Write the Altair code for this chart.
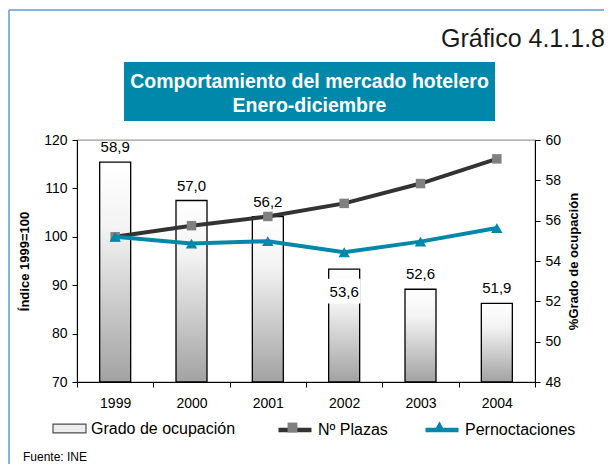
import altair as alt
import pandas as pd

# ---- data ----
anios = ["1999", "2000", "2001", "2002", "2003", "2004"]
grado_ocupacion = [58.9, 57.0, 56.2, 53.6, 52.6, 51.9]
plazas = [100.0, 102.3, 104.2, 106.9, 111.0, 116.1]
pernoctaciones = [100.0, 98.6, 99.1, 96.8, 99.0, 101.8]
etiquetas_dentro = ["2002"]

titulo = ["Comportamiento del mercado hotelero", "Enero-diciembre"]
grafico = "Gráfico 4.1.1.8"
fuente = "Fuente: INE"
eje_izq = "Índice 1999=100"
eje_der = "%Grado de ocupación"
serie_barras = "Grado de ocupación"
serie_plazas = "Nº Plazas"
serie_pern = "Pernoctaciones"
ticks_izq = [70, 80, 90, 100, 110, 120]
ticks_der = [48, 50, 52, 54, 56, 58, 60]

# ---- tables ----
df_bar = pd.DataFrame({"anio": anios, "ocupacion": grado_ocupacion})
df_bar["etiqueta"] = [f"{v:.1f}".replace(".", ",") for v in grado_ocupacion]
df_bar["serie"] = serie_barras
df_bar["dentro"] = df_bar["anio"].isin(etiquetas_dentro)
df_pl = pd.DataFrame({"anio": anios, "indice": plazas, "serie": serie_plazas})
df_pe = pd.DataFrame({"anio": anios, "indice": pernoctaciones, "serie": serie_pern})
uno = pd.DataFrame({"k": [0]})

FONT = "Liberation Sans"
TEAL = "#0088AA"
DARK = "#333333"
W, H = 458, 242
LY = 271

x_enc = alt.X(
    "anio:O",
    scale=alt.Scale(paddingInner=0, paddingOuter=0),
    axis=alt.Axis(title=None, labelAngle=0, tickBand="extent", labelFontSize=14,
                  labelPadding=9, tickSize=5, domainColor="black", tickColor="black",
                  labelColor="black"),
)
y_der = alt.Scale(domain=[48, 60], nice=False, zero=False)
y_izq = alt.Scale(domain=[70, 120], nice=False, zero=False)


def leyenda(x, path, **kw):
    return alt.Legend(title=None, orient="none", legendX=x, legendY=LY, symbolType=path,
                      symbolSize=1089, labelFontSize=16, labelColor="black", labelOffset=4,
                      padding=0, **kw)


gradiente = alt.Gradient(
    gradient="linear",
    stops=[alt.GradientStop(color="#ffffff", offset=0),
           alt.GradientStop(color="#f3f3f3", offset=0.3),
           alt.GradientStop(color="#a2a2a2", offset=1)],
    x1=0, x2=0, y1=0, y2=1,
)

barras = alt.Chart(df_bar).mark_bar(fill=gradiente, stroke="black", strokeWidth=1.3, size=31).encode(
    x=x_enc,
    y=alt.Y("ocupacion:Q", scale=y_der,
            axis=alt.Axis(orient="right", values=ticks_der, title=eje_der, titleAngle=270,
                          titleBaseline="top", titleFontSize=13, titleFontWeight="bold",
                          titleColor="black", titlePadding=7, labelFontSize=14, labelPadding=5,
                          tickSize=5, domainColor="black", tickColor="black", labelColor="black")),
    y2=alt.datum(48),
)

ley_barras = alt.Chart(df_bar).transform_filter("false").mark_point(filled=True).encode(
    fill=alt.Fill("serie:N", scale=alt.Scale(domain=[serie_barras], range=["#e6e6e6"]),
                  legend=leyenda(-25, "M-1,-0.27H1V0.27H-1Z", symbolStrokeColor="black",
                                 symbolStrokeWidth=1.2)),
)

etiq_fuera = alt.Chart(df_bar).transform_filter("!datum.dentro").mark_text(
    fontSize=15, baseline="alphabetic", dy=-10, color="black").encode(
    x=x_enc, y=alt.Y("ocupacion:Q", scale=y_der, axis=None), text="etiqueta:N")

caja_dentro = alt.Chart(df_bar).transform_filter("datum.dentro").mark_point(
    shape="M-1,-0.75H1V0.75H-1Z", size=1089, filled=True, color="white", opacity=1,
    yOffset=22).encode(x=x_enc, y=alt.Y("ocupacion:Q", scale=y_der, axis=None))

etiq_dentro = alt.Chart(df_bar).transform_filter("datum.dentro").mark_text(
    fontSize=15, baseline="middle", dy=23, color="black").encode(
    x=x_enc, y=alt.Y("ocupacion:Q", scale=y_der, axis=None), text="etiqueta:N")

linea_pl = alt.Chart(df_pl).mark_line(strokeWidth=4).encode(
    x=x_enc,
    y=alt.Y("indice:Q", scale=y_izq,
            axis=alt.Axis(orient="left", values=ticks_izq, title=eje_izq, titleFontSize=13,
                          titleFontWeight="bold", titleColor="black", titlePadding=12,
                          labelFontSize=14, labelPadding=5, tickSize=5, domainColor="black",
                          tickColor="black", labelColor="black")),
    stroke=alt.Stroke("serie:N", scale=alt.Scale(domain=[serie_plazas], range=[DARK]),
                      legend=leyenda(199, "M-1,0H1", symbolStrokeWidth=4.5)),
)
puntos_pl = alt.Chart(df_pl).mark_point(shape="square", filled=True, size=90, opacity=1).encode(
    x=x_enc, y=alt.Y("indice:Q", scale=y_izq, axis=None),
    fill=alt.Fill("serie:N", scale=alt.Scale(domain=[serie_plazas], range=["#808080"]),
                  legend=leyenda(199, "M-0.3,-0.3H0.3V0.3H-0.3Z", labelExpr="''",
                                 symbolStrokeWidth=0)),
)
linea_pe = alt.Chart(df_pe).mark_line(strokeWidth=4).encode(
    x=x_enc, y=alt.Y("indice:Q", scale=y_izq, axis=None),
    stroke=alt.Stroke("serie:N", scale=alt.Scale(domain=[serie_pern], range=[TEAL]),
                      legend=leyenda(346, "M-1,0H1", symbolStrokeWidth=4.5)),
)
puntos_pe = alt.Chart(df_pe).mark_point(shape="triangle-up", filled=True, size=130, opacity=1).encode(
    x=x_enc, y=alt.Y("indice:Q", scale=y_izq, axis=None),
    fill=alt.Fill("serie:N", scale=alt.Scale(domain=[serie_pern], range=[TEAL]),
                  legend=leyenda(346, "M0,-0.38L0.3,0.18H-0.3Z", labelExpr="''",
                                 symbolStrokeWidth=0)),
)

# ---- decoration ----
marco_izq = alt.Chart(uno).mark_rule(color="#5b9bd5", strokeWidth=1.5).encode(
    x=alt.value(-68), y=alt.value(-130), y2=alt.value(340))
marco_sup = alt.Chart(uno).mark_rule(color="#5b9bd5", strokeWidth=1.5).encode(
    x=alt.value(-68), x2=alt.value(600), y=alt.value(-130))
caja = alt.Chart(uno).mark_rect(color=TEAL).encode(
    x=alt.value(47), x2=alt.value(418), y=alt.value(-78), y2=alt.value(-19))
texto_titulo = alt.Chart(uno).mark_text(
    text=titulo, fontSize=19.5, fontWeight="bold", color="white", align="center",
    baseline="middle", lineHeight=24).encode(x=alt.value(232.5), y=alt.value(-58))
texto_grafico = alt.Chart(uno).mark_text(
    text=grafico, fontSize=25, align="left", baseline="alphabetic", color="#1a1a1a").encode(
    x=alt.value(364), y=alt.value(-93))
texto_fuente = alt.Chart(uno).mark_text(
    text=fuente, fontSize=12, align="left", baseline="middle", color="black").encode(
    x=alt.value(-54), y=alt.value(317))

chart = alt.layer(
    marco_izq, marco_sup, caja, texto_titulo, texto_grafico, texto_fuente,
    barras, ley_barras, etiq_fuera, caja_dentro, etiq_dentro,
    linea_pl, puntos_pl, linea_pe, puntos_pe,
).resolve_scale(
    y="independent", fill="independent", stroke="independent"
).resolve_legend(
    fill="independent", stroke="independent"
).properties(
    width=W, height=H,
    autosize=alt.AutoSizeParams(type="none"),
    padding={"left": 69, "top": 132, "right": 69, "bottom": 82},
).configure(
    font=FONT
).configure_view(
    stroke="#999999", strokeWidth=1.3
).configure_axis(
    grid=False
)

chart.save("out.html", embed_options={"renderer": "svg", "actions": False})
